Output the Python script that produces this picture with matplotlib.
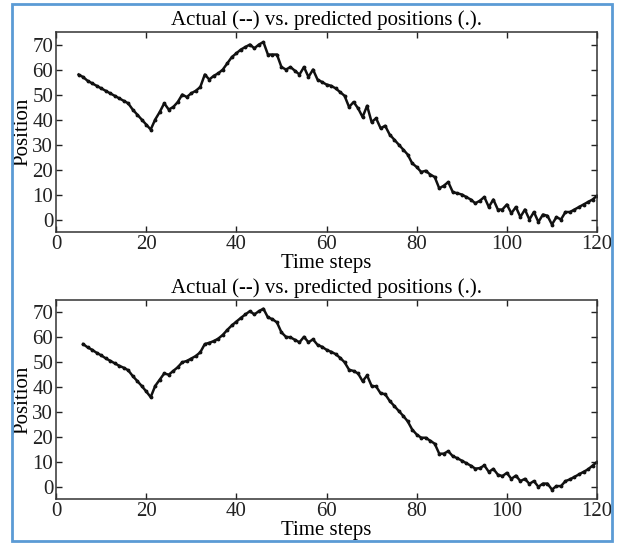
import matplotlib
matplotlib.use("Agg")
import matplotlib.pyplot as plt
from matplotlib.patches import Rectangle

plt.rcParams["font.family"] = ["Liberation Serif", "DejaVu Serif"]

title_text = "Actual (--) vs. predicted positions (.)."
x_label = "Time steps"
y_label = "Position"
x_ticks = [0, 20, 40, 60, 80, 100, 120]
y_ticks = [0, 10, 20, 30, 40, 50, 60, 70]

# upper panel: time steps 5..120
steps_top = list(range(5, 121))
pos_top = [
    58, 57, 55.5, 54.5, 53.5, 52.5, 51.5, 50.5, 49.5, 48.5, 47.5, 46.5,   # 5-16
    44, 42, 40, 38, 36, 40, 43, 46.5, 44, 45, 47, 50, 49, 50.5, 51.5,    # 17-31
    53, 58, 56, 57.5, 58.5, 60, 62.5, 65, 66.5, 68, 69, 70, 68.5, 70,    # 32-45
    71, 66, 66, 66, 61, 60, 61, 59.5, 58, 61, 57, 60, 56, 55, 54,        # 46-60
    53.5, 52.5, 51, 49.5, 45, 47, 44.5, 41, 45.5, 39, 40.5, 36.5, 37.5,  # 61-73
    34, 32, 30, 28, 26, 22.5, 21, 19, 19.5, 18, 17, 12.5, 13.5, 15,      # 74-87
    11, 10.5, 10, 9, 8, 6.5, 7.5, 9, 5, 8, 4, 4, 6, 2.5, 5, 1, 4, 0,     # 88-105
    3, -1, 2, 1.5, -2, 1, 0, 3, 3, 4, 5, 6, 7, 8, 9.5,                    # 106-120
]

# lower panel: time steps 6..120
steps_bot = list(range(6, 121))
pos_bot = [
    57.3, 56, 55, 53.8, 52.8, 51.6, 50.6, 49.6, 48.6, 47.8, 46.8,        # 6-16
    44.5, 42.5, 40.5, 38.3, 36, 40.5, 43, 45.5, 45, 46.5, 48, 50, 50.5,  # 17-29
    51.5, 52.5, 54, 57.3, 57.8, 58.5, 59.5, 61, 63, 64.8, 66.3, 67.8,    # 30-41
    69.2, 70.5, 69.2, 70.5, 71.5, 68, 67.3, 66, 62, 60.2, 60, 59, 58,    # 42-54
    60.2, 58, 59.2, 57, 56.2, 55, 54.2, 53.3, 51.8, 50, 47, 46.5, 45.5,  # 55-67
    42.4, 44.7, 40.5, 40.3, 37.5, 37.2, 34.5, 32.5, 30.5, 28.5, 26.3,    # 68-78
    23, 21, 19.7, 19.7, 18.5, 17.3, 13.3, 13.3, 14.3, 12.3, 11.5, 10.5,  # 79-90
    9.5, 8.5, 7.3, 7.5, 8.6, 6, 7.2, 4.9, 4.3, 5.6, 3.2, 4.5, 2.3, 3.2,  # 91-104
    1.2, 2.3, 0, 1.3, 1.3, -1.1, 0.3, 0.3, 2.3, 3, 4, 5, 6, 7, 8.5, 10,  # 105-120
]

fig = plt.figure(figsize=(6.19, 5.44), dpi=100)

panels = [
    ([0.0905, 0.5735, 0.874, 0.3676], steps_top, pos_top),
    ([0.0905, 0.0822, 0.874, 0.3664], steps_bot, pos_bot),
]

fs = 15
for rect, xs, ys in panels:
    ax = fig.add_axes(rect)
    ax.plot(xs, ys, color="#111111", lw=1.8, marker=".", markersize=3.5)
    ax.set_xlim(0, 120)
    ax.set_ylim(-5, 75)
    ax.set_xticks(x_ticks)
    ax.set_yticks(y_ticks)
    ax.tick_params(direction="in", length=4, width=1, top=True, right=True,
                   labelsize=fs, pad=2, colors="#222222")
    for s in ax.spines.values():
        s.set_linewidth(1.1)
        s.set_color("#333333")
    ax.set_title(title_text, fontsize=fs, pad=5)
    ax.set_xlabel(x_label, fontsize=fs, labelpad=0)
    ax.set_ylabel(y_label, fontsize=fs, labelpad=0)

# blue frame around the whole figure
fig.patches.append(Rectangle((12 / 619, 3 / 544), 600 / 619, 537 / 544,
                             transform=fig.transFigure, fill=False,
                             edgecolor="#5b9bd5", lw=2))

plt.savefig("out.png")
